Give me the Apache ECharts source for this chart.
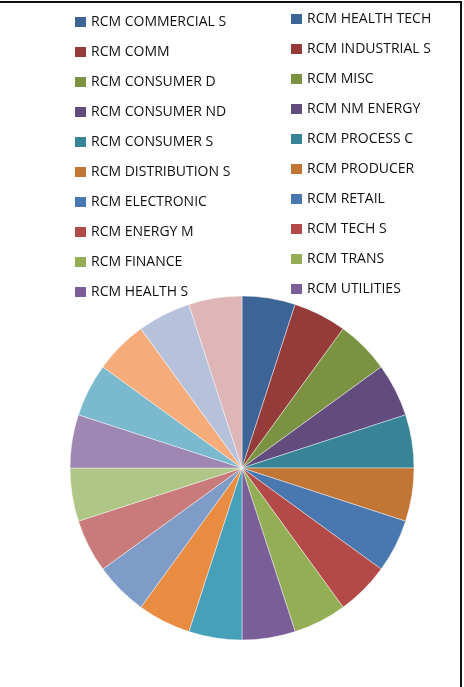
<!DOCTYPE html>
<html>
<head>
<meta charset="utf-8">
<script src="https://cdn.jsdelivr.net/npm/echarts@6/dist/echarts.min.js"></script>
<style>
html,body{margin:0;padding:0;background:#fff;}
#chart{position:absolute;left:0;top:0;width:464px;height:687px;}
#frame{position:absolute;left:0;top:1px;width:460px;height:686px;border-top:2px solid #111;border-right:2px solid #111;pointer-events:none;}
</style>
</head>
<body>
<div id="chart"></div>
<div id="frame"></div>
<script>
const categories = [
  'RCM COMMERCIAL S','RCM COMM','RCM CONSUMER D','RCM CONSUMER ND','RCM CONSUMER S',
  'RCM DISTRIBUTION S','RCM ELECTRONIC','RCM ENERGY M','RCM FINANCE','RCM HEALTH S',
  'RCM HEALTH TECH','RCM INDUSTRIAL S','RCM MISC','RCM NM ENERGY','RCM PROCESS C',
  'RCM PRODUCER','RCM RETAIL','RCM TECH S','RCM TRANS','RCM UTILITIES'
];
const values = [1,1,1,1,1, 1,1,1,1,1, 1,1,1,1,1, 1,1,1,1,1];
const sliceColors = [
  '#3c6496','#953b3a','#7a9242','#624c7d','#388497',
  '#c27635','#4977b0','#b34a47','#93ae55','#7a5e98',
  '#47a0b9','#e88c41','#7f9bc7','#c87b7a','#afc686',
  '#9e88b3','#7bb9ce','#f6ab7a','#b6c2dc','#deb6b7'
];
const legendColors = [
  '#3c6496','#953b3a','#7a9242','#624c7d','#388497',
  '#c27635','#4977b0','#b34a47','#93ae55','#7a5e98'
];

const chart = echarts.init(document.getElementById('chart'), null, {renderer:'canvas'});
const leftNames = categories.slice(0, 10);
const rightNames = categories.slice(10, 20);
const mkLegend = (names, left, top) => ({
  orient: 'vertical',
  left: left,
  top: top,
  icon: 'rect',
  itemWidth: 11,
  itemHeight: 10,
  itemGap: 16,
  itemTextGap: 4,
  selectedMode: false,
  padding: 0,
  itemStyle: {borderWidth: 0},
  textStyle: {fontFamily: 'Open Sans', fontSize: 14, color: '#111', lineHeight: 14},
  data: names.map((n, i) => ({name: n, itemStyle: {color: legendColors[i], borderWidth: 0}}))
});

chart.setOption({
  animation: false,
  legend: [mkLegend(leftNames, 75, 15), mkLegend(rightNames, 291, 12)],
  series: [{
    type: 'pie',
    center: [242, 468],
    radius: 172,
    startAngle: 90,
    clockwise: true,
    label: {show: false},
    labelLine: {show: false},
    emphasis: {disabled: true},
    itemStyle: {borderColor: 'rgba(255,255,255,0.7)', borderWidth: 0.6},
    data: categories.map((n, i) => ({name: n, value: values[i], itemStyle: {color: sliceColors[i]}}))
  }]
});
</script>
</body>
</html>
